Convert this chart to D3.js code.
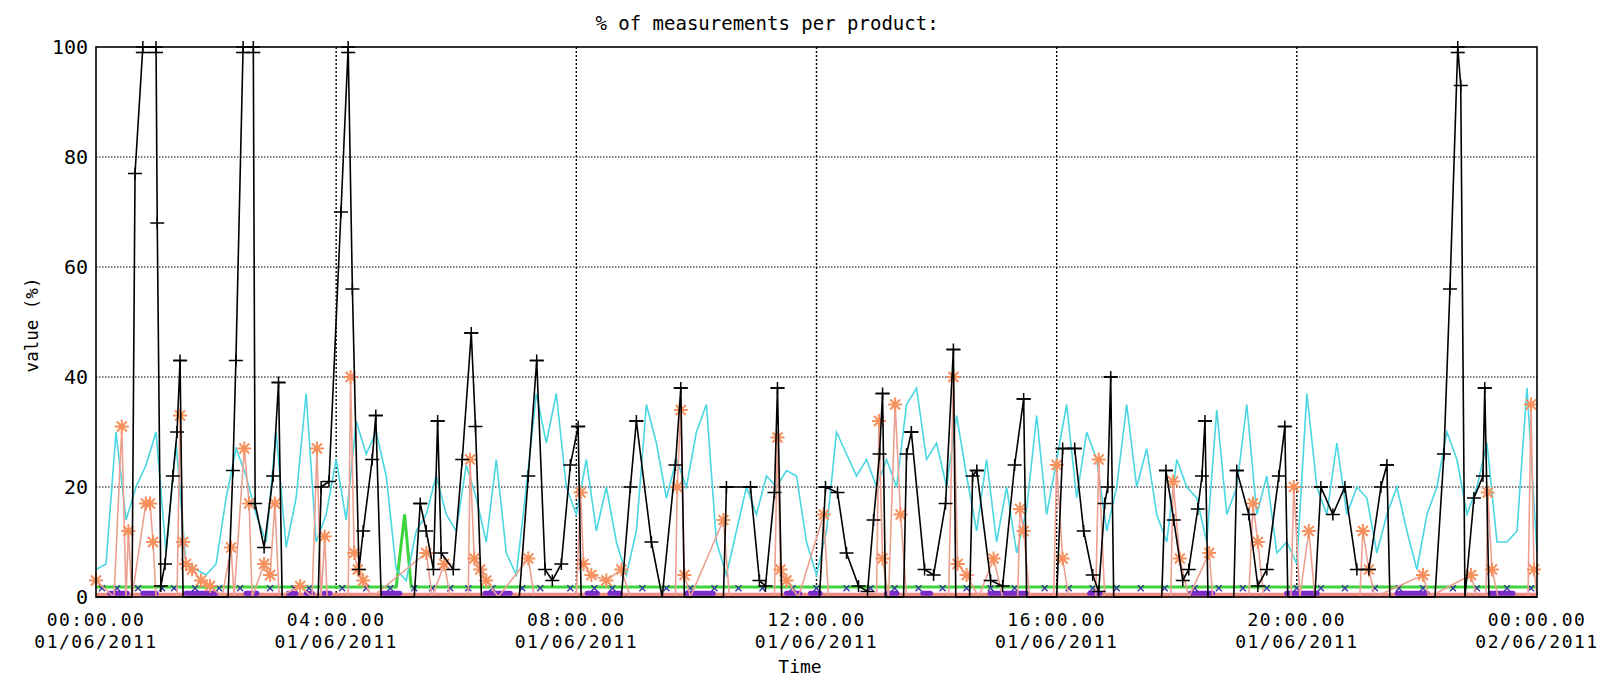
<!DOCTYPE html>
<html>
<head>
<meta charset="utf-8">
<script src="https://cdn.jsdelivr.net/npm/d3@7"></script>
<style>
  body { margin: 0; background: #fff; }
  text { font-family: "DejaVu Sans Mono", monospace; fill: #000; }
</style>
</head>
<body>
<svg id="chart" width="1604" height="683"></svg>
<script>
// tick labels
const xTicks = [0, 4, 8, 12, 16, 20, 24];
const xTickTime = ["00:00.00", "04:00.00", "08:00.00", "12:00.00", "16:00.00", "20:00.00", "00:00.00"];
const xTickDate = ["01/06/2011", "01/06/2011", "01/06/2011", "01/06/2011", "01/06/2011", "01/06/2011", "02/06/2011"];
const yTicks = [0, 20, 40, 60, 80, 100];

// black product: [hour, %]
const blackSeries = [
  [0,0],[0.6,0],[0.65,77],[0.78,100],[1.0,100],[1.02,68],[1.08,2],[1.15,6],[1.28,22],[1.35,30],[1.4,43],[1.45,0],
  [2.2,0],[2.28,23],[2.33,43],[2.45,100],[2.62,100],[2.65,17],[2.8,9],[2.95,22],[3.04,39],[3.1,0],
  [3.7,0],[3.75,20],[3.88,21],[4.08,70],[4.2,100],[4.27,56],[4.38,5],[4.45,12],[4.6,25],[4.66,33],[4.75,0],
  [5.3,0],[5.4,17],[5.5,12],[5.62,5],[5.69,32],[5.75,8],[5.95,5],[6.1,25],[6.25,48],[6.32,31],[6.42,0],
  [7.05,0],[7.2,22],[7.34,43],[7.48,5],[7.6,3],[7.75,6],[7.9,24],[8.03,31],[8.08,0],
  [8.75,0],[8.9,20],[9.0,32],[9.25,10],[9.43,0],[9.65,24],[9.74,38],[9.8,0],
  [10.45,0],[10.5,20],[10.9,20],[11.05,3],[11.15,2],[11.3,19],[11.35,38],[11.42,0],
  [12.05,0],[12.15,20],[12.35,19],[12.5,8],[12.7,2],[12.85,1],[12.95,14],[13.05,26],[13.1,37],[13.15,0],
  [13.45,0],[13.5,26],[13.58,30],[13.8,5],[13.95,4],[14.15,17],[14.28,45],[14.32,0],
  [14.55,0],[14.6,22],[14.67,23],[14.9,3],[15.1,2],[15.3,24],[15.45,36],[15.5,0],
  [16.0,0],[16.1,27],[16.3,27],[16.45,12],[16.6,4],[16.7,1],[16.8,17],[16.85,20],[16.9,40],[16.95,0],
  [17.75,0],[17.82,23],[17.95,14],[18.1,3],[18.2,5],[18.35,16],[18.42,22],[18.47,32],[18.52,0],
  [18.95,0],[19.0,23],[19.2,15],[19.35,2],[19.5,5],[19.7,22],[19.8,31],[19.85,0],
  [20.3,0],[20.4,20],[20.6,15],[20.8,20],[21.0,5],[21.2,5],[21.4,20],[21.5,24],[21.55,0],
  [22.3,0],[22.45,26],[22.55,56],[22.68,100],[22.73,93],[22.8,0],[22.95,18],[23.1,22],[23.13,38],[23.2,0],[24,0]
];

// cyan product, one value every 10 minutes
const cyanValues = [
  5, 6, 30, 14, 20, 24,   30, 8, 28, 6, 5, 4,
  6, 18, 27, 22, 15, 10,  30, 9, 18, 37, 10, 15,
  25, 14, 32, 26, 30, 22, 5, 3, 12, 15, 22, 15,
  12, 24, 18, 10, 25, 8,  4, 20, 37, 28, 37, 20,
  15, 25, 12, 20, 10, 4,  12, 35, 28, 18, 25, 20,
  30, 35, 10, 4, 12, 20,  15, 22, 20, 23, 22, 10,
  4, 12, 30, 26, 22, 25,  20, 25, 20, 35, 38, 25,
  28, 20, 33, 22, 12, 25, 10, 20, 8, 16, 33, 15,
  25, 35, 18, 30, 25, 12, 20, 35, 20, 27, 15, 10,
  25, 20, 18, 10, 34, 15, 20, 35, 15, 22, 8, 10,
  6, 37, 20, 15, 28, 15,  20, 18, 8, 15, 20, 12,
  5, 15, 20, 30, 25, 15,  20, 28, 10, 10, 12, 38, 8
];

// salmon product (asterisks): [hour, %]
const salmonSeries = [
  [0,3],[0.3,0],[0.43,31],[0.5,0],[0.54,12],[0.6,0],[0.83,17],[0.9,17],[0.95,10],[1.0,0],
  [1.35,0],[1.4,33],[1.45,10],[1.5,6],[1.6,5],[1.75,3],[1.9,2],[2.1,0],[2.25,9],[2.3,0],
  [2.47,27],[2.55,17],[2.6,0],[2.8,6],[2.9,4],[2.98,17],[3.05,0],[3.4,2],[3.6,0],[3.68,27],[3.75,0],[3.81,11],[3.85,0],
  [4.2,0],[4.24,40],[4.3,8],[4.36,5],[4.45,3],[4.6,0],[5.5,8],[5.6,0],[5.8,6],[5.9,0],
  [6.2,0],[6.23,25],[6.3,7],[6.4,5],[6.5,3],[6.7,0],[7.2,7],[7.3,0],
  [8.0,0],[8.07,19],[8.12,6],[8.25,4],[8.5,3],[8.75,5],[8.9,0],
  [9.65,0],[9.68,20],[9.74,34],[9.8,4],[9.9,0],[10.45,14],[10.55,0],
  [11.3,0],[11.35,29],[11.4,5],[11.5,3],[11.7,0],[12.12,15],[12.2,0],
  [13.0,0],[13.04,32],[13.1,7],[13.2,0],[13.31,35],[13.4,15],[13.5,0],
  [14.2,0],[14.28,40],[14.35,6],[14.5,4],[14.7,0],[14.95,7],[15.1,0],
  [15.35,0],[15.39,16],[15.45,12],[15.55,0],[15.95,0],[16.0,24],[16.1,7],[16.2,0],
  [16.65,0],[16.7,25],[16.8,0],[17.9,0],[17.94,21],[18.05,7],[18.2,0],[18.54,8],[18.6,0],
  [19.2,0],[19.27,17],[19.35,10],[19.45,0],[19.9,0],[19.95,20],[20.05,0],[20.2,12],[20.3,0],
  [21.05,0],[21.1,12],[21.2,5],[21.3,0],[22.1,4],[22.2,0],[22.9,4],[23.0,0],
  [23.15,0],[23.18,19],[23.25,5],[23.35,0],[23.85,0],[23.9,35],[23.95,5],[24,0]
];

// green product and its single spike
const greenSeries = [[0,1.8],[5.0,1.8],[5.14,15],[5.25,1.8],[24,1.8]];

// purple product: runs of points at the base line [start hour, end hour]
const purpleRuns = [
  [0.23,0.52],[0.78,1.0],[1.5,2.0],[2.5,2.68],[3.2,3.33],[3.5,3.6],[3.8,3.9],[4.78,5.06],
  [6.48,6.9],[8.18,8.35],[8.56,8.73],[9.84,10.28],[11.5,11.72],[11.9,12.06],[13.17,13.34],
  [13.77,13.9],[14.89,15.5],[16.55,16.72],[18.22,18.6],[19.83,20.34],[21.67,22.17],[23.22,23.6]
];

// dark blue crosses along the base
const blueMarks = [
  0.1,0.35,0.7,1.1,1.3,1.65,2.05,2.4,2.9,3.3,3.55,4.1,4.5,4.9,5.3,5.6,5.9,6.2,6.6,7.1,7.4,
  7.9,8.3,8.6,9.1,9.5,9.9,10.3,10.7,11.1,11.6,12.0,12.5,12.9,13.3,13.7,14.1,14.5,14.9,15.3,
  15.8,16.2,16.6,17.0,17.4,17.8,18.3,18.7,19.1,19.5,20.0,20.4,20.8,21.3,21.7,22.1,22.6,23.0,23.5,23.9
];

const width = 1604, height = 683;
const margin = {top: 47, right: 67, bottom: 86, left: 96};

const svg = d3.select("#chart");

const x = d3.scaleLinear().domain([0, 24]).range([margin.left, width - margin.right]);
const y = d3.scaleLinear().domain([0, 100]).range([height - margin.bottom, margin.top]);

// grid
svg.append("g")
    .selectAll("line")
    .data(xTicks.slice(1, -1))
    .join("line")
        .attr("x1", d => x(d)).attr("x2", d => x(d))
        .attr("y1", y(0)).attr("y2", y(100))
        .attr("stroke", "#000")
        .attr("stroke-width", 1.4)
        .attr("stroke-dasharray", "2,2");

svg.append("g")
    .selectAll("line")
    .data(yTicks.slice(1, -1))
    .join("line")
        .attr("x1", x(0)).attr("x2", x(24))
        .attr("y1", d => y(d)).attr("y2", d => y(d))
        .attr("stroke", "#000")
        .attr("stroke-width", 1.2)
        .attr("stroke-dasharray", "1.5,1.5");

const plot = svg.append("g");
const line = d3.line().x(d => x(d[0])).y(d => y(d[1]));

// base pink line
plot.append("line")
    .attr("x1", x(0)).attr("x2", x(24))
    .attr("y1", y(0.4)).attr("y2", y(0.4))
    .attr("stroke", "#f08a84")
    .attr("stroke-width", 4);

// green
plot.append("path")
    .datum(greenSeries)
    .attr("d", line)
    .attr("fill", "none")
    .attr("stroke", "#3ed43e")
    .attr("stroke-width", 3);

// purple runs
plot.append("g")
    .selectAll("line")
    .data(purpleRuns)
    .join("line")
        .attr("x1", d => x(d[0])).attr("x2", d => x(d[1]))
        .attr("y1", y(0.7)).attr("y2", y(0.7))
        .attr("stroke", "#7a2cc8")
        .attr("stroke-width", 5)
        .attr("stroke-linecap", "round");

// blue crosses
plot.append("g")
    .selectAll("path")
    .data(blueMarks)
    .join("path")
        .attr("d", d => {
            const cx = x(d), cy = y(1.6), r = 3;
            return `M${cx - r},${cy - r}L${cx + r},${cy + r}M${cx - r},${cy + r}L${cx + r},${cy - r}`;
        })
        .attr("stroke", "#34349a")
        .attr("stroke-width", 1.3);

// cyan
const cyanSeries = cyanValues.map((v, i) => [i / 6, v]);
plot.append("path")
    .datum(cyanSeries)
    .attr("d", line)
    .attr("fill", "none")
    .attr("stroke", "#4ad6e2")
    .attr("stroke-width", 1.6);

// salmon line + asterisks
plot.append("path")
    .datum(salmonSeries)
    .attr("d", line)
    .attr("fill", "none")
    .attr("stroke", "#eda091")
    .attr("stroke-width", 1.6);

const asterisk = (cx, cy, r) => {
    let p = "";
    for (let k = 0; k < 4; k++) {
        const a = k * Math.PI / 4;
        const dx = r * Math.cos(a), dy = r * Math.sin(a);
        p += `M${cx - dx},${cy - dy}L${cx + dx},${cy + dy}`;
    }
    return p;
};

plot.append("g")
    .selectAll("path")
    .data(salmonSeries.filter(d => d[1] > 1.5))
    .join("path")
        .attr("d", d => asterisk(x(d[0]), y(d[1]), 7))
        .attr("stroke", "#f7905c")
        .attr("stroke-width", 2);

// black line with + markers and caps at peaks
plot.append("path")
    .datum(blackSeries)
    .attr("d", line)
    .attr("fill", "none")
    .attr("stroke", "#000")
    .attr("stroke-width", 1.6);

plot.append("g")
    .selectAll("path")
    .data(blackSeries.filter(d => d[1] > 0))
    .join("path")
        .attr("d", d => {
            const cx = x(d[0]), cy = y(d[1]);
            return `M${cx - 7},${cy}H${cx + 7}M${cx},${cy - 6}V${cy + 6}`;
        })
        .attr("stroke", "#000")
        .attr("stroke-width", 1.5);

// caps at local maxima
const peaks = blackSeries.filter((d, i) =>
    i > 0 && i < blackSeries.length - 1 &&
    d[1] >= blackSeries[i - 1][1] && d[1] >= blackSeries[i + 1][1] && d[1] > 0);
plot.append("g")
    .selectAll("line")
    .data(peaks)
    .join("line")
        .attr("x1", d => x(d[0]) - 7).attr("x2", d => x(d[0]) + 7)
        .attr("y1", d => y(Math.min(d[1], 99)))
        .attr("y2", d => y(Math.min(d[1], 99)))
        .attr("stroke", "#000")
        .attr("stroke-width", 1.6);

// frame
svg.append("rect")
    .attr("x", x(0)).attr("y", y(100))
    .attr("width", x(24) - x(0)).attr("height", y(0) - y(100))
    .attr("fill", "none")
    .attr("stroke", "#000")
    .attr("stroke-width", 1.6);

// y tick labels
svg.append("g")
    .selectAll("text")
    .data(yTicks)
    .join("text")
        .attr("x", margin.left - 8)
        .attr("y", d => y(d))
        .attr("dy", "0.35em")
        .attr("text-anchor", "end")
        .attr("font-size", 20)
        .text(d => d);

// x tick labels, two lines each
const xl = svg.append("g")
    .selectAll("g")
    .data(xTicks)
    .join("g")
        .attr("transform", d => `translate(${x(d)},0)`);
xl.append("text")
    .attr("y", 626)
    .attr("text-anchor", "middle")
    .attr("font-size", 18)
    .attr("letter-spacing", 1.5)
    .text((d, i) => xTickTime[i]);
xl.append("text")
    .attr("y", 648)
    .attr("text-anchor", "middle")
    .attr("font-size", 18)
    .attr("letter-spacing", 1.5)
    .text((d, i) => xTickDate[i]);

// titles
svg.append("text")
    .attr("x", 767).attr("y", 30)
    .attr("text-anchor", "middle")
    .attr("font-size", 19)
    .text("% of measurements per product:");

svg.append("text")
    .attr("x", 800).attr("y", 673)
    .attr("text-anchor", "middle")
    .attr("font-size", 18)
    .text("Time");

svg.append("text")
    .attr("transform", "translate(38,325) rotate(-90)")
    .attr("text-anchor", "middle")
    .attr("font-size", 17.5)
    .text("value (%)");
</script>
</body>
</html>
